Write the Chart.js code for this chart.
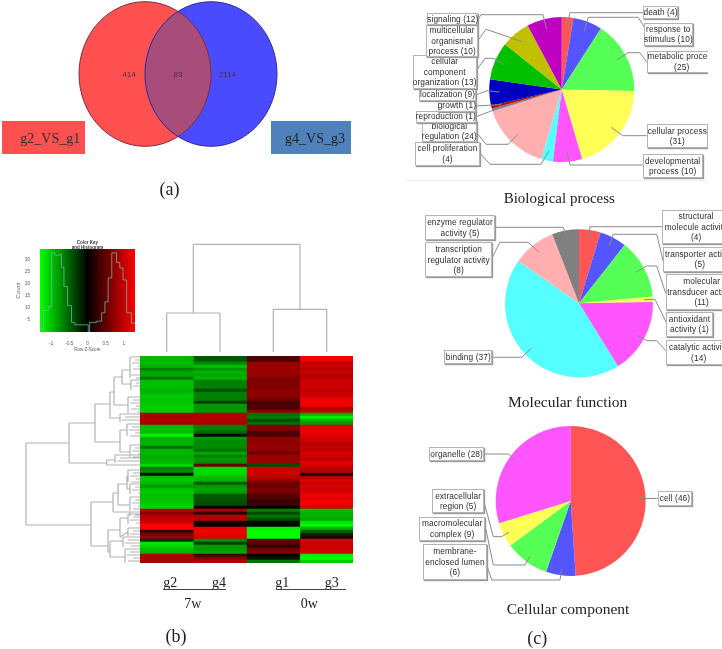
<!DOCTYPE html>
<html><head><meta charset="utf-8"><title>Venn, heatmap and GO pie charts</title>
<script src="https://cdn.jsdelivr.net/npm/chart.js@4"></script>
<style>
html,body{margin:0;padding:0;background:#fff;overflow:hidden}
#root{position:relative;width:722px;height:649px;overflow:hidden;filter:blur(.35px)}
canvas{position:absolute;display:block}
.t{position:absolute;white-space:nowrap;transform:translate(-50%,-50%);line-height:1}
.serif{font-family:"Liberation Serif",serif;color:#222}
.box{position:absolute;box-sizing:border-box;border:1px solid #b4b4b4;box-shadow:1px 1px 1px #999;background:#fff;
display:flex;align-items:center;justify-content:center;text-align:center;white-space:pre;font:8.3px/10.5px "Liberation Sans",sans-serif;color:#2c2c2c;letter-spacing:.1px}
.clip{position:absolute;overflow:hidden}
</style></head><body><div id="root"></div>
<script>
// ---- Panel (a): Venn diagram
const vennSets = ['g2_VS_g1','g4_VS_g3'];
const vennCounts = ['414','83','2114'];
// ---- Panel (b): heatmap (row Z-score per gene, one array per sample column)
const heatColumns = ['g2','g4','g1','g3'];
const g2Values = [-.72,-.72,-.72,-.7,-.5,-.65,-.65,-.45,-.75,-.75,
 -.75,-.7,-.72,-.8,-.75,-.78,-.8,-.8,-.8,.68,
 .68,.7,.65,-.72,-.75,-.75,-.95,-.7,-.7,-.7,
 -.45,-.7,-.72,-.68,-.7,-.72,-.85,-.5,-.55,-.05,
 -.75,-.78,-.72,-.6,-.75,-.8,-.75,-.75,-.78,-.8,
 -.85,.72,.55,.72,.75,.8,1,1,.2,.5,
 .6,-.2,-.9,-.85,-.75,-.7,.65,.7,.65];
const g4Values = [-.35,-.35,-.55,-.75,-.6,-.7,-.65,-.7,-.5,-.5,
 -.5,-.3,-.5,-.5,-.5,-.25,-.6,-.6,-.6,.7,
 .7,.7,.68,-.5,-.5,-.4,-.05,-.6,-.55,-.55,
 -.55,-.45,-.65,-.5,-.6,-.55,.4,-.85,-.85,-.85,
 -.75,-.7,-.35,-.6,-.65,-.6,-.35,-.35,-.3,-.3,
 .05,.65,.2,.7,.7,.1,.05,.9,.95,.9,
 .85,-.55,-.25,-.6,-.6,-.65,.25,.55,.7];
const g1Values = [.3,.3,.6,.6,.6,.6,.6,.5,.5,.5,
 .5,.55,.55,.55,.45,.3,.3,.3,.55,-.45,
 -.5,-.3,-.45,.5,.5,.3,.3,.55,.55,.55,
 .6,.55,.45,.6,.6,.6,-.3,.8,.8,.8,
 .75,.6,.45,.4,.5,.45,.35,.3,.2,.25,
 0,-.5,-.3,-.45,-.3,-.05,0,-.95,-1,-1,
 -1,.4,.35,.2,.45,.5,-.02,-.1,-.45];
const g3Values = [.95,.95,.75,.8,.72,.78,.7,.75,.8,.8,
 .8,.72,.8,.8,.95,.95,.95,.7,.75,-.7,
 -.95,-.7,-.6,.9,.9,.9,.9,.8,.8,.7,
 .8,.75,.85,.8,.75,.9,.85,.75,.7,.1,
 .7,.85,.78,.85,.8,.85,.95,.9,.95,.95,
 .85,-.75,-.7,-.7,-.65,-.9,-1,-.7,-.4,-.15,
 .1,.85,.8,.78,.8,.85,-.95,-1,-.8];
// colour-key histogram
const keyEdges = [-1.31,-1.22,-1.08,-.99,-.9,-.76,-.72,-.65,-.55,-.44,-.35,.02,.06,.16,.25,.39,.48,.57,.67,.8,.89,.98,1.08,1.21,1.3];
const keyCounts = [1,9,10.5,33,32,32.5,27,19,11,4,3,0,4,4,4.5,8,12.6,22.5,33,29,26.7,21.7,8,3.7,3.7];
const keyXTicks = [-1,-.5,0,.5,1];
const keyYTicks = [5,10,15,20,25,30];
// ---- Panel (c): GO pie charts
const bpLabels = ['death (4)','response to\nstimulus (10)','metabolic process\n(25)','cellular process\n(31)','developmental\nprocess (10)','cell proliferation\n(4)','biological\nregulation (24)','reproduction (1)','growth (1)','localization (9)','cellular\ncomponent\norganization (13)','multicellular\norganismal\nprocess (10)','signaling (12)'];
const bpValues = [4,10,25,31,10,4,24,1,1,9,13,10,12];
const mfLabels = ['structural\nmolecule activity\n(4)','transporter activity\n(5)','molecular\ntransducer activity\n(11)','antioxidant\nactivity (1)','catalytic activity\n(14)','binding (37)','transcription\nregulator activity\n(8)','enzyme regulator\nactivity (5)'];
const mfValues = [4,5,11,1,14,37,8,5];
const ccLabels = ['cell (46)','membrane-\nenclosed lumen\n(6)','macromolecular\ncomplex (9)','extracellular\nregion (5)','organelle (28)'];
const ccValues = [46,6,9,5,28];
const pieColors = ['#ff5555','#5555ff','#55ff55','#ffff55','#ff55ff','#55ffff','#ffafaf','#808080','#c00000','#0000c0','#00c000','#c0c000','#c000c0'];

// ---- Layout (page pixels), separate from the data
const root = document.getElementById('root');
function mk(l,t,w,h,parent){const c=document.createElement('canvas');c.width=w;c.height=h;c.style.left=l+'px';c.style.top=t+'px';c.style.width=w+'px';c.style.height=h+'px';(parent||root).appendChild(c);return c;}
function txt(s,x,y,css,cls){const d=document.createElement('div');d.className='t '+(cls||'');d.textContent=s;d.style.left=x+'px';d.style.top=y+'px';d.style.cssText+=';'+css;root.appendChild(d);return d;}
function rect(l,t,w,h,bg){const d=document.createElement('div');d.style.cssText=`position:absolute;left:${l}px;top:${t}px;width:${w}px;height:${h}px;background:${bg}`;root.appendChild(d);return d;}
Chart.defaults.animation=false;
Chart.defaults.responsive=false;
Chart.defaults.plugins.legend.display=false;
Chart.defaults.plugins.tooltip.enabled=false;

// ---- Venn
const vennCentersX=[145,211], vennCentersY=[74,74], vennRx=66, vennRy=72.3;
const vennPlugin={id:'venn',afterDatasetsDraw(ch){
  const p=ch.getDatasetMeta(0).data, c=ch.ctx;
  const path=i=>{c.beginPath();c.ellipse(p[i].x,p[i].y,vennRx,vennRy,0,0,Math.PI*2);};
  c.save();
  path(0);c.fillStyle='#ff5050';c.fill();
  path(1);c.fillStyle='#4a4aff';c.fill();
  c.save();path(0);c.clip();path(1);c.fillStyle='#a84c7c';c.fill();c.restore();
  c.lineWidth=1;
  path(0);c.strokeStyle='#7a2c44';c.stroke();
  path(1);c.strokeStyle='#2c2c90';c.stroke();
  c.restore();
}};
new Chart(mk(0,0,370,210),{type:'scatter',
  data:{datasets:[{label:'sets',data:vennSets.map((n,i)=>({x:vennCentersX[i],y:vennCentersY[i]})),pointRadius:0}]},
  options:{layout:{padding:0},scales:{x:{display:false,min:0,max:370},y:{display:false,min:0,max:210,reverse:true}}},
  plugins:[vennPlugin]});
[[129],[178],[227.5]].forEach((p,i)=>txt(vennCounts[i],p[0],74,'font:8px "Liberation Sans",sans-serif;color:#4a2a3a'));
rect(2,121,83,33,'#ff5050');rect(271,121,80,33,'#4f81bd');
txt(vennSets[0],50,139,'font:14px "Liberation Serif",serif;color:#333');
txt(vennSets[1],315,139,'font:14px "Liberation Serif",serif;color:#222');
txt('(a)',169.5,189,'font:18px "Liberation Serif",serif','serif');

// ---- Heatmap as stacked horizontal bars
const heatData=[g2Values,g4Values,g1Values,g3Values];
const zColor=v=>v>=0?`rgb(${Math.round(255*v)},0,0)`:`rgb(0,${Math.round(-255*v)},0)`;
const rows=g2Values.map((_,i)=>'gene '+(i+1));
const heatCanvas=mk(140,356,213,207);
heatCanvas.style.filter='blur(.6px)';
new Chart(heatCanvas,{type:'bar',
  data:{labels:rows,datasets:heatColumns.map((n,k)=>({label:n,data:rows.map(()=>1),
    backgroundColor:c=>zColor(heatData[k][c.dataIndex]),borderWidth:0,barPercentage:1,categoryPercentage:1}))},
  options:{indexAxis:'y',layout:{padding:0},scales:{x:{display:false,stacked:true,min:0,max:4},y:{display:false,stacked:true}}}});

// ---- Dendrograms (merge height / row position)
const colDendro=[[193.3,244.3,300,244.3],[193.3,244.3,193.3,313],[300,244.3,300,309.3],[166.7,313,220,313],[166.7,313,166.7,352],[220,313,220,352],[273.3,309.3,326.7,309.3],[273.3,309.3,273.3,352],[326.7,309.3,326.7,352]];
const rowDendro=[[26,443,26,525],[26,443,69,443],[69,423,69,463],[69,423,95,423],[95,404,95,442],[95,404,110,404],[110,392,110,418],[110,392,114,392],[114,377,114,405],[114,377,122,377],[122,370,122,384],[122,370,130,370],[122,384,131,384],[114,405,128,405],[110,418,120,418],[95,442,120,442],[120,430,120,452],[120,430,127,430],[120,452,130,452],
[69,463,106.7,463],[106.7,460,106.7,465],[106.7,460,115,460],[106.7,465,140,465],
[26,525,91,525],[91,502,91,546],[91,502,113,502],[113,493,113,512],[113,493,118,493],[118,484,118,505],[118,484,127,484],[127,476,127,489],[127,476,128,476],[127,489,130,489],[118,505,130,505],[113,512,130,512],[91,546,108,546],[108,530,108,552],[108,530,120,530],[120,518,120,537],[120,518,128,518],[120,537,128,532],[108,552,110,552],[110,541,110,557],[110,541,123,541],[110,557,125,557]];
const leafClusters=[[130,357,378],[131,380,390],[128,397,413],[120,414,422],[127,424,436],[130,445,458],[115,455,463],[128,470,482],[130,484,494],[130,497,511],[130,512,516],[128,514,524],[128,528,536],[123,537,547],[125,549,563]];
const leafStagger=[0,5,2,8,3,9,1,6];
const pts=[];
const seg=(a,b,c,d)=>{pts.push({x:a,y:b},{x:c,y:d},{x:NaN,y:NaN});};
colDendro.forEach(s=>seg(...s));
rowDendro.forEach(s=>seg(...s));
leafClusters.forEach(([x,y0,y1])=>{seg(x,y0,x,y1);let k=0;for(let y=y0;y<=y1;y+=3){seg(x+leafStagger[k++%8],y,140,y);}});
new Chart(mk(0,230,360,360),{type:'scatter',
  data:{datasets:[{label:'dendrogram',data:pts,showLine:true,spanGaps:false,pointRadius:0,borderColor:'#b2b2b2',borderWidth:1.2}]},
  options:{layout:{padding:0},scales:{x:{display:false,min:0,max:360},y:{display:false,min:230,max:590,reverse:true}}}});

// Sample labels
[[170.3,0],[219,1],[282.3,2],[331.7,3]].forEach(([x,i])=>txt(heatColumns[i],x,582.5,'font:14px "Liberation Serif",serif','serif'));
rect(163,589,63,1,'#444');rect(275.7,589,70.3,1,'#444');
txt('7w',192.7,604,'font:14px "Liberation Serif",serif','serif');
txt('0w',309.3,604,'font:14px "Liberation Serif",serif','serif');
txt('(b)',176,636,'font:18px "Liberation Serif",serif','serif');

// ---- Colour key
const keyGrad={id:'keyGrad',beforeDatasetsDraw(ch){const a=ch.chartArea,c=ch.ctx,g=c.createLinearGradient(a.left,0,a.right,0);
  g.addColorStop(0,'#00ff00');g.addColorStop(.5,'#000');g.addColorStop(1,'#ff0000');c.fillStyle=g;c.fillRect(a.left,a.top,a.right-a.left,a.bottom-a.top);}};
const tickFont={size:4.5,family:'"Liberation Sans",sans-serif'};
const keyCanvas=mk(15,235,125,117);
keyCanvas.style.filter='blur(.6px)';
new Chart(keyCanvas,{type:'scatter',
  data:{datasets:[{label:'Count',data:keyEdges.map((x,i)=>({x,y:keyCounts[i]})),showLine:true,stepped:'before',pointRadius:0,borderColor:'rgba(110,190,175,.75)',borderWidth:1}]},
  options:{layout:{padding:{top:14,right:5}},scales:{
    x:{min:-1.31,max:1.31,grid:{display:false},border:{display:false},afterFit:s=>{s.height=20;},afterBuildTicks:s=>{s.ticks=keyXTicks.map(v=>({value:v}));},ticks:{font:tickFont,color:'#555',padding:1,maxRotation:0,autoSkip:false,callback:v=>v},title:{display:true,text:'Row Z-Score',font:tickFont,color:'#555',padding:0}},
    y:{min:0,max:34.6,grid:{display:false,drawTicks:true},border:{display:false},afterFit:s=>{s.width=25;},afterBuildTicks:s=>{s.ticks=keyYTicks.map(v=>({value:v}));},ticks:{font:tickFont,color:'#555',padding:2,autoSkip:false,callback:v=>v},title:{display:true,text:'Count',font:{size:6,family:tickFont.family},color:'#666',padding:0}}}},
  plugins:[keyGrad]});
txt('Color Key',87.5,241.5,'font:bold 4.5px "Liberation Sans",sans-serif;color:#333;filter:blur(.4px)');
txt('and Histogram',87.5,246.5,'font:bold 4.5px "Liberation Sans",sans-serif;color:#333;filter:blur(.4px)');

// ---- Pies with callouts
function pie(o){
  const host=o.clipW?(()=>{const d=document.createElement('div');d.className='clip';d.style.cssText=`left:400px;top:0;width:${o.clipW}px;height:649px`;root.appendChild(d);return d;})():null;
  const L=400,T=o.top,W=322,H=o.h;
  const leader={id:'leader',afterDatasetsDraw(ch){
    const m=ch.getDatasetMeta(0).data,c=ch.ctx;c.save();c.strokeStyle='#8a8a8a';c.lineWidth=1;
    m.forEach((a,i)=>{const ang=(a.startAngle+a.endAngle)/2,r=a.outerRadius*o.inset;
      c.beginPath();c.moveTo(a.x+Math.cos(ang)*r,a.y+Math.sin(ang)*r);
      o.leaders[i].forEach(([x,y])=>c.lineTo(x-L,y-T));c.stroke();});
    c.restore();}};
  const cv=mk(host?0:L,T,W,H,host||root);
  new Chart(cv,{type:'pie',data:{labels:o.labels.map(s=>s.replace(/\n/g,' ')),datasets:[{data:o.values,backgroundColor:pieColors.slice(0,o.values.length),borderWidth:0}]},
    options:{layout:{padding:{left:o.cx-o.r-L,right:L+W-o.cx-o.r,top:o.cy-o.r-T,bottom:T+H-o.cy-o.r}}},plugins:[leader]});
  o.labels.forEach((s,i)=>{const [l,t,r,b]=o.boxes[i],d=document.createElement('div');d.className='box';d.textContent=s;
    d.style.left=(l-(host?400:0))+'px';d.style.top=t+'px';d.style.width=(r-l)+'px';d.style.height=(b-t)+'px';(host||root).appendChild(d);});
}
pie({labels:bpLabels,values:bpValues,cx:561.7,cy:89.5,r:72.5,top:0,h:205,clipW:308,inset:.86,
 boxes:[[642.7,6,678.3,19.3],[644,22.7,692.7,45.7],[646.7,50.7,716.7,73.3],[646.7,124,708,148],[642.7,154,702.7,178],[415,142.3,480,165.7],[421.7,120.7,477,141.7],[415.7,110.7,476,122.7],[437.7,99,476,111.7],[419,88.3,476,101],[412.7,55,476.7,89.3],[426,25,478.3,57.3],[427.3,13.3,478.3,25]],
 leaders:[[[570,12.7],[642.7,12.7]],[[588.3,17.3],[638,17.3],[645,28]],[[628,52.7],[640,52.7],[646.7,62]],[[622.7,135.7],[646.7,135.7]],[[570,165],[642.7,165]],[[541,164.3],[490,164.3],[480,153]],[[508.3,144.3],[486,144.3],[477,133]],[[476,116.7]],[[476,106]],[[487,90.7],[476,95]],[[493,58.3],[485,58.3],[476.7,70]],[[486,29.3],[478.3,40]],[[543,14.7],[481,14.7],[478.3,19]]]});
rect(405,180,303,1,'#f0f0f0');
txt('Biological process',559.3,198,'font:15px "Liberation Serif",serif','serif');
pie({labels:mfLabels,values:mfValues,cx:579,cy:303.3,r:74,top:205,h:190,inset:.88,
 boxes:[[662.3,210,730,244.3],[663.3,247.3,736.3,271.7],[665.7,274.3,737.7,310],[665.7,312.3,713.3,336.7],[665.7,340,731.7,365],[444.3,350,492.3,364.3],[425,242.3,492.3,277.3],[425,215,495,240]],
 leaders:[[[590,226.7],[662.3,226.7]],[[613.3,234.3],[656.7,234.3],[663.3,261.7]],[[646.7,266],[656.7,266],[665.7,293.3]],[[655,299.3],[666.7,323.3]],[[646.7,340.7],[656.7,340.7],[665.7,350.7]],[[521.7,357.3],[492.3,357.3]],[[528,242.3],[500,242.3],[492.3,257.3]],[[563.3,227.3],[495,227.3]]]});
txt('Molecular function',567.7,401.7,'font:15.5px "Liberation Serif",serif','serif');
pie({labels:ccLabels,values:ccValues,cx:570.7,cy:501,r:75,top:415,h:180,inset:.92,
 boxes:[[658.3,491,691.7,506],[422.7,544.3,487.3,580],[419.3,516.7,485,541],[432.3,489,484,513.3],[429.3,447.3,484,461]],
 leaders:[[[658.3,498.3]],[[560,580],[491.7,580],[487.3,566.7]],[[525,565],[493.3,565],[485.7,528.3]],[[501.7,536.7],[493.3,536.7],[484,501.7]],[[508.3,454],[484,454]]]});
txt('Cellular component',568,609,'font:15.5px "Liberation Serif",serif','serif');
txt('(c)',537.3,637.5,'font:18px "Liberation Serif",serif','serif');
</script></body></html>
